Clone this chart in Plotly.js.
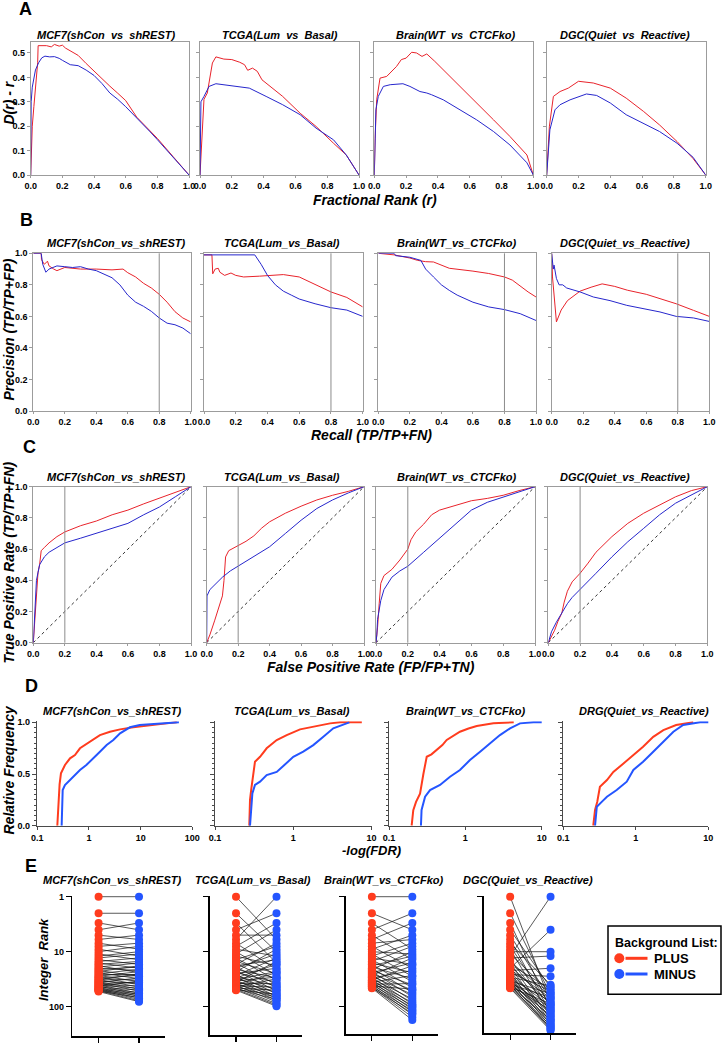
<!DOCTYPE html>
<html><head><meta charset="utf-8">
<script src="https://cdn.plot.ly/plotly-3.0.1.min.js"></script>
<style>html,body{margin:0;padding:0;background:#fff}#chart{width:722px;height:1043px}</style>
</head><body><div id="chart"></div>
<script>
// ---------------- DATA ----------------
const titlesA = ['MCF7(shCon\u00a0 vs\u00a0 shREST)','TCGA(Lum\u00a0 vs\u00a0 Basal)','Brain(WT\u00a0 vs\u00a0 CTCFko)','DGC(Quiet\u00a0 vs\u00a0 Reactive)'];
const titlesBC = ['MCF7(shCon_vs_shREST)','TCGA(Lum_vs_Basal)','Brain(WT_vs_CTCFko)','DGC(Quiet_vs_Reactive)'];
const titlesD = ['MCF7(shCon_vs_shREST)','TCGA(Lum_vs_Basal)','Brain(WT_vs_CTCFko)','DRG(Quiet_vs_Reactive)'];
const titlesE = ['MCF7(shCon_vs_shREST)','TCGA(Lum_vs_Basal)','Brain(WT_vs_CTCFko)','DGC(Quiet_vs_Reactive)'];
const eCategories = ['PLUS','MINUS'];
const recallCutoff = 0.8;
const fprCutoff = 0.2;
const diagonalRef = [0, 1];

// A: D(r)-r vs fractional rank
const A_MCF7_red_x = [0,0.005,0.01,0.02,0.03,0.04,0.044,0.047,0.06,0.1,0.13,0.15,0.18,0.2,0.22,0.25,0.3,0.35,0.4,0.45,0.5,0.55,0.6,0.67,0.75,0.8,0.9,1.0];
const A_MCF7_red_y = [0,0.1,0.2,0.28,0.35,0.42,0.46,0.53,0.53,0.53,0.525,0.535,0.528,0.532,0.52,0.51,0.49,0.457,0.425,0.392,0.364,0.335,0.305,0.237,0.185,0.15,0.075,0];
const A_MCF7_blue_x = [0,0.003,0.01,0.02,0.03,0.05,0.07,0.09,0.12,0.15,0.18,0.2,0.25,0.3,0.35,0.4,0.45,0.5,0.55,0.6,0.67,0.75,0.8,0.9,1.0];
const A_MCF7_blue_y = [0,0.3,0.36,0.4,0.43,0.46,0.48,0.487,0.484,0.485,0.478,0.47,0.452,0.448,0.43,0.408,0.375,0.336,0.31,0.28,0.235,0.18,0.145,0.072,0];
const A_TCGA_red_x = [0,0.01,0.025,0.046,0.061,0.078,0.1,0.15,0.2,0.25,0.28,0.3,0.33,0.36,0.39,0.45,0.52,0.63,0.73,0.84,0.92,1.0];
const A_TCGA_red_y = [0,0.12,0.31,0.336,0.39,0.459,0.484,0.475,0.473,0.462,0.452,0.429,0.438,0.425,0.39,0.36,0.322,0.253,0.199,0.13,0.082,0];
const A_TCGA_blue_x = [0,0.003,0.006,0.025,0.057,0.1,0.2,0.31,0.416,0.52,0.63,0.73,0.84,0.92,1.0];
const A_TCGA_blue_y = [0,0.2,0.3,0.322,0.363,0.374,0.366,0.356,0.322,0.288,0.247,0.192,0.144,0.082,0];
const A_Brain_red_x = [0,0.005,0.015,0.036,0.078,0.11,0.14,0.17,0.2,0.235,0.266,0.3,0.33,0.38,0.455,0.54,0.644,0.75,0.853,0.96,1.0];
const A_Brain_red_y = [0,0.15,0.308,0.397,0.404,0.425,0.445,0.473,0.479,0.503,0.5,0.486,0.496,0.466,0.418,0.363,0.295,0.226,0.158,0.082,0];
const A_Brain_blue_x = [0,0.004,0.01,0.025,0.057,0.1,0.18,0.224,0.287,0.33,0.36,0.434,0.54,0.644,0.75,0.853,0.96,1.0];
const A_Brain_blue_y = [0,0.15,0.267,0.322,0.363,0.37,0.374,0.363,0.342,0.336,0.329,0.308,0.267,0.226,0.178,0.123,0.05,0];
const A_DGC_red_x = [0,0.017,0.042,0.084,0.136,0.2,0.293,0.4,0.5,0.61,0.71,0.82,0.92,1.0];
const A_DGC_red_y = [0,0.2,0.322,0.342,0.356,0.384,0.377,0.356,0.315,0.26,0.205,0.137,0.068,0];
const A_DGC_blue_x = [0,0.02,0.052,0.084,0.147,0.21,0.25,0.314,0.4,0.5,0.61,0.71,0.82,0.92,1.0];
const A_DGC_blue_y = [0,0.185,0.267,0.288,0.308,0.322,0.332,0.326,0.295,0.247,0.212,0.178,0.13,0.073,0];

// B: precision vs recall
const B_MCF7_red_x = [0,0.05,0.052,0.07,0.09,0.1,0.13,0.15,0.2,0.25,0.3,0.4,0.5,0.57,0.6,0.65,0.7,0.75,0.8,0.85,0.9,0.95,1.0];
const B_MCF7_red_y = [1.0,1.0,0.96,0.93,0.95,0.92,0.9,0.89,0.91,0.905,0.9,0.9,0.895,0.9,0.877,0.85,0.81,0.78,0.74,0.69,0.63,0.59,0.565];
const B_MCF7_blue_x = [0,0.05,0.06,0.07,0.08,0.1,0.12,0.15,0.2,0.25,0.3,0.35,0.4,0.45,0.5,0.55,0.6,0.65,0.7,0.75,0.8,0.85,0.9,0.95,1.0];
const B_MCF7_blue_y = [1.0,1.0,0.93,0.9,0.88,0.9,0.91,0.92,0.915,0.91,0.915,0.9,0.89,0.87,0.845,0.8,0.735,0.69,0.664,0.632,0.59,0.557,0.547,0.526,0.49];
const B_TCGA_red_x = [0,0.05,0.055,0.07,0.09,0.1,0.13,0.17,0.2,0.25,0.35,0.5,0.6,0.7,0.8,0.9,1.0];
const B_TCGA_red_y = [0.99,0.99,0.87,0.9,0.905,0.88,0.86,0.875,0.86,0.85,0.855,0.865,0.85,0.8,0.755,0.72,0.66];
const B_TCGA_blue_x = [0,0.32,0.36,0.4,0.45,0.5,0.55,0.6,0.7,0.8,0.9,1.0];
const B_TCGA_blue_y = [0.99,0.99,0.93,0.86,0.8,0.76,0.735,0.71,0.68,0.655,0.64,0.6];
const B_Brain_red_x = [0,0.1,0.2,0.25,0.3,0.35,0.45,0.55,0.6,0.7,0.8,0.85,0.9,0.95,1.0];
const B_Brain_red_y = [1.0,0.99,0.97,0.955,0.947,0.945,0.905,0.895,0.887,0.872,0.85,0.83,0.79,0.755,0.723];
const B_Brain_blue_x = [0,0.1,0.11,0.2,0.27,0.3,0.35,0.4,0.45,0.5,0.6,0.7,0.8,0.9,1.0];
const B_Brain_blue_y = [1.0,1.0,0.985,0.975,0.955,0.9,0.85,0.8,0.765,0.735,0.69,0.66,0.643,0.617,0.574];
const B_DGC_red_x = [0,0.005,0.03,0.06,0.1,0.18,0.25,0.32,0.4,0.48,0.6,0.69,0.79,0.9,1.0];
const B_DGC_red_y = [1.0,0.85,0.565,0.64,0.7,0.76,0.785,0.806,0.79,0.766,0.74,0.713,0.68,0.638,0.6];
const B_DGC_blue_x = [0,0.005,0.01,0.015,0.02,0.03,0.047,0.07,0.095,0.18,0.264,0.37,0.476,0.6,0.687,0.79,0.9,1.0];
const B_DGC_blue_y = [1.0,0.95,0.9,0.925,0.89,0.84,0.8,0.8,0.78,0.755,0.723,0.7,0.67,0.645,0.628,0.6,0.59,0.568];

// C: ROC
const C_MCF7_red_x = [0,0.01,0.02,0.03,0.04,0.05,0.07,0.1,0.15,0.2,0.3,0.4,0.5,0.6,0.7,0.8,0.9,1.0];
const C_MCF7_red_y = [0,0.15,0.3,0.45,0.5,0.59,0.61,0.64,0.68,0.71,0.75,0.78,0.82,0.85,0.89,0.925,0.96,1.0];
const C_MCF7_blue_x = [0,0.005,0.01,0.02,0.04,0.07,0.1,0.15,0.2,0.3,0.4,0.5,0.6,0.7,0.8,0.9,1.0];
const C_MCF7_blue_y = [0,0.1,0.25,0.4,0.5,0.55,0.58,0.61,0.64,0.67,0.7,0.733,0.765,0.82,0.87,0.935,1.0];
const C_TCGA_red_x = [0,0.01,0.02,0.05,0.08,0.1,0.11,0.12,0.14,0.2,0.25,0.3,0.35,0.4,0.5,0.6,0.7,0.8,0.9,1.0];
const C_TCGA_red_y = [0,0.02,0.05,0.14,0.23,0.3,0.4,0.55,0.59,0.625,0.65,0.685,0.735,0.775,0.83,0.875,0.915,0.945,0.97,1.0];
const C_TCGA_blue_x = [0,0.002,0.02,0.05,0.1,0.15,0.2,0.3,0.4,0.5,0.6,0.7,0.8,0.9,1.0];
const C_TCGA_blue_y = [0,0.3,0.34,0.37,0.42,0.46,0.49,0.55,0.615,0.7,0.785,0.86,0.915,0.96,1.0];
const C_Brain_red_x = [0,0.01,0.02,0.03,0.05,0.1,0.15,0.2,0.22,0.25,0.3,0.35,0.4,0.5,0.6,0.7,0.8,0.9,1.0];
const C_Brain_red_y = [0,0.1,0.25,0.38,0.43,0.47,0.53,0.6,0.66,0.71,0.76,0.82,0.85,0.88,0.91,0.925,0.945,0.975,1.0];
const C_Brain_blue_x = [0,0.005,0.01,0.02,0.03,0.05,0.1,0.15,0.2,0.3,0.4,0.5,0.6,0.7,0.8,0.9,1.0];
const C_Brain_blue_y = [0,0.05,0.15,0.22,0.27,0.34,0.42,0.46,0.49,0.58,0.67,0.765,0.85,0.9,0.935,0.968,1.0];
const C_DGC_red_x = [0,0.02,0.04,0.06,0.085,0.1,0.12,0.15,0.2,0.25,0.3,0.4,0.5,0.6,0.7,0.8,0.9,1.0];
const C_DGC_red_y = [0,0.04,0.08,0.135,0.19,0.26,0.33,0.39,0.445,0.51,0.58,0.68,0.765,0.83,0.885,0.935,0.975,1.0];
const C_DGC_blue_x = [0,0.02,0.05,0.085,0.12,0.15,0.2,0.3,0.4,0.5,0.6,0.7,0.8,0.9,1.0];
const C_DGC_blue_y = [0,0.07,0.13,0.19,0.25,0.29,0.34,0.445,0.55,0.647,0.733,0.82,0.894,0.947,1.0];

// D: cumulative relative frequency vs -log(FDR)
const D_MCF7_red_x = [0.244,0.25,0.255,0.27,0.287,0.343,0.43,0.536,0.67,0.84,1.04,1.31,1.63,2.55,4.0,7.2,15,32,50];
const D_MCF7_red_y = [0,0.1,0.25,0.4,0.507,0.587,0.652,0.684,0.749,0.78,0.812,0.845,0.877,0.909,0.932,0.952,0.974,0.99,1.0];
const D_MCF7_blue_x = [0.296,0.3,0.31,0.343,0.43,0.536,0.67,0.89,1.18,1.63,2.2,2.96,4.0,6.2,9.6,24,55];
const D_MCF7_blue_y = [0,0.2,0.345,0.394,0.442,0.49,0.539,0.587,0.652,0.716,0.78,0.829,0.894,0.952,0.974,0.99,1.0];
const D_TCGA_red_x = [0.274,0.28,0.29,0.303,0.324,0.376,0.457,0.614,0.824,1.22,2.0,2.95,3.96,7.5];
const D_TCGA_red_y = [0,0.25,0.35,0.442,0.619,0.667,0.749,0.829,0.877,0.932,0.964,0.99,1.0,1.0];
const D_TCGA_blue_x = [0.28,0.29,0.3,0.324,0.376,0.457,0.614,0.745,1.0,1.34,1.8,2.42,3.24,4.8,5.2];
const D_TCGA_blue_y = [0,0.2,0.313,0.394,0.426,0.49,0.52,0.577,0.667,0.716,0.78,0.86,0.942,0.99,1.0];
const D_Brain_red_x = [0.198,0.208,0.226,0.255,0.282,0.312,0.36,0.42,0.5,0.57,0.7,0.85,1.1,1.41,2.33,4.3];
const D_Brain_red_y = [0,0.15,0.23,0.31,0.5,0.667,0.69,0.73,0.78,0.83,0.87,0.909,0.94,0.964,0.99,1.0];
const D_Brain_blue_x = [0.262,0.267,0.297,0.345,0.466,0.63,0.85,1.15,1.56,2.1,2.84,3.85,5.2,7.8,11];
const D_Brain_blue_y = [0,0.152,0.28,0.345,0.394,0.474,0.539,0.635,0.716,0.797,0.877,0.942,0.99,1.0,1.0];
const D_DRG_red_x = [0.259,0.274,0.294,0.32,0.4,0.49,0.67,0.92,1.26,1.74,2.4,3.6,6.2];
const D_DRG_red_y = [0,0.152,0.232,0.377,0.442,0.52,0.6,0.684,0.764,0.86,0.925,0.974,1.0];
const D_DRG_blue_x = [0.274,0.29,0.35,0.4,0.545,0.75,0.925,1.26,1.74,2.4,3.3,4.5,7.7,13.8];
const D_DRG_blue_y = [0,0.184,0.24,0.28,0.345,0.426,0.539,0.619,0.716,0.81,0.909,0.974,1.0,1.0];

// E: integer rank in PLUS vs MINUS background lists
const E_MCF7_plus = [1,2,3,4,5,6,7,8,9,10,11,12,13,14,15,16,17,18,19,20,21,22,23,24,25,26,27,28,29,30,31,32,33,34,35,36,37,38,39,40,41,42,43,44,45,46,47,48,49,50,51,52,53];
const E_MCF7_minus = [1,2,4,3,6,5,9,7,12,8,14,10,11,17,13,20,15,24,16,22,19,28,18,31,21,26,35,23,40,27,33,44,25,38,48,30,52,36,42,57,46,61,34,50,65,55,70,59,74,63,78,68,81];
const E_TCGA_plus = [1,2,3,4,5,6,7,8,9,10,11,12,13,14,15,16,17,18,19,20,21,22,23,24,25,26,27,28,29,30,31,32,33,34,35,36,37,38,39,40,41,42,43,44,45,46,47,48,49,50];
const E_TCGA_minus = [6,10,16,2,5,1,21,3,12,27,4,18,33,8,25,40,7,14,45,11,30,52,9,36,20,58,13,42,65,17,48,23,70,29,55,15,76,38,62,24,82,44,68,31,88,50,74,93,60,98];
const E_Brain_plus = [1,2,3,4,5,6,7,8,9,10,11,12,13,14,15,16,17,18,19,20,21,22,23,24,25,26,27,28,29,30,31,32,33,34,35,36,37,38,39,40,41,42,43,44,45,46];
const E_Brain_minus = [1,4,9,2,14,3,6,20,5,11,28,7,17,35,8,24,45,12,31,55,10,40,66,16,50,78,13,60,90,22,72,100,18,84,112,27,95,125,38,105,140,48,118,155,132,175];
const E_DGC_plus = [1,2,3,4,5,6,7,8,9,10,11,12,13,14,15,16,17,18,19,20,21,22,23,24,25,26,27,28,29,30,31,32,33,34,35,36,37,38,39,40,41,42,43,44,45,46];
const E_DGC_minus = [85,60,110,45,75,130,40,95,150,10,55,1,12,120,65,170,48,90,190,4,70,20,140,52,210,28,100,160,42,230,80,125,180,58,250,105,145,200,68,260,115,175,220,88,240,270];

const rowA = [[A_MCF7_red_x,A_MCF7_red_y,A_MCF7_blue_x,A_MCF7_blue_y],[A_TCGA_red_x,A_TCGA_red_y,A_TCGA_blue_x,A_TCGA_blue_y],[A_Brain_red_x,A_Brain_red_y,A_Brain_blue_x,A_Brain_blue_y],[A_DGC_red_x,A_DGC_red_y,A_DGC_blue_x,A_DGC_blue_y]];
const rowB = [[B_MCF7_red_x,B_MCF7_red_y,B_MCF7_blue_x,B_MCF7_blue_y],[B_TCGA_red_x,B_TCGA_red_y,B_TCGA_blue_x,B_TCGA_blue_y],[B_Brain_red_x,B_Brain_red_y,B_Brain_blue_x,B_Brain_blue_y],[B_DGC_red_x,B_DGC_red_y,B_DGC_blue_x,B_DGC_blue_y]];
const rowC = [[C_MCF7_red_x,C_MCF7_red_y,C_MCF7_blue_x,C_MCF7_blue_y],[C_TCGA_red_x,C_TCGA_red_y,C_TCGA_blue_x,C_TCGA_blue_y],[C_Brain_red_x,C_Brain_red_y,C_Brain_blue_x,C_Brain_blue_y],[C_DGC_red_x,C_DGC_red_y,C_DGC_blue_x,C_DGC_blue_y]];
const rowD = [[D_MCF7_red_x,D_MCF7_red_y,D_MCF7_blue_x,D_MCF7_blue_y],[D_TCGA_red_x,D_TCGA_red_y,D_TCGA_blue_x,D_TCGA_blue_y],[D_Brain_red_x,D_Brain_red_y,D_Brain_blue_x,D_Brain_blue_y],[D_DRG_red_x,D_DRG_red_y,D_DRG_blue_x,D_DRG_blue_y]];
const rowE = [[E_MCF7_plus,E_MCF7_minus],[E_TCGA_plus,E_TCGA_minus],[E_Brain_plus,E_Brain_minus],[E_DGC_plus,E_DGC_minus]];

// ---------------- LAYOUT / DRAWING ----------------
const W = 722, H = 1043;
const FONT = 'Arial, "Liberation Sans", sans-serif';
const RED1 = '#e8232b', BLUE1 = '#2626cc';
const RED2 = '#ff3c1e', BLUE2 = '#2455ff';
const FRAME = '#9c9c9c';
const fx = p => p / W, fy = p => 1 - p / H;

const layout = {width:W, height:H, margin:{l:0,r:0,t:0,b:0}, showlegend:false,
  paper_bgcolor:'#fff', plot_bgcolor:'rgba(0,0,0,0)', font:{family:FONT,color:'#000'},
  annotations:[], shapes:[]};
const traces = [];
let axN = 0;
function addPanel(box, xCfg, yCfg){
  axN++;
  const s = axN === 1 ? '' : String(axN);
  layout['xaxis'+s] = Object.assign({}, xCfg, {domain:[fx(box.l), fx(box.r)], anchor:'y'+s});
  layout['yaxis'+s] = Object.assign({}, yCfg, {domain:[fy(box.b), fy(box.t)], anchor:'x'+s});
  return {x:'x'+s, y:'y'+s};
}
const tickFont = {family:FONT, size:9, weight:'bold', color:'#000'};
function frameAxis(range, labels, dtick, extra){
  return Object.assign({range:range, autorange:false, showline:true, mirror:true, linecolor:FRAME, linewidth:1,
    showgrid:false, zeroline:false, ticks:'outside', ticklen:3, tickcolor:FRAME, tickwidth:1,
    tick0:0, dtick:dtick, tickformat:'.1f', showticklabels:labels, tickfont:tickFont}, extra||{});
}
function ann(text, x, y, size, extra){
  layout.annotations.push(Object.assign({text:text, x:fx(x), y:fy(y), xref:'paper', yref:'paper',
    xanchor:'center', yanchor:'middle', showarrow:false, font:{family:FONT, size:size, color:'#000'}}, extra||{}));
}
function line(ax, x, y, color, width, dash){
  traces.push({type:'scatter', mode:'lines', x:x, y:y, xaxis:ax.x, yaxis:ax.y, hoverinfo:'skip',
    line:{color:color, width:width, dash:dash||'solid'}});
}

// Row A
const boxesA = [[30.7,189],[200,359],[374.3,533.3],[546.7,705.7]];
const titleXA = [106,280,455.5,625];
boxesA.forEach((c,i)=>{
  const ax = addPanel({l:c[0], r:c[1], t:42, b:175},
    frameAxis([0,1], true, 0.2, {ticklen:2}), frameAxis([0,0.545], i===0, 0.1));
  line(ax, rowA[i][0], rowA[i][1], RED1, 1);
  line(ax, rowA[i][2], rowA[i][3], BLUE1, 1);
  ann('<b><i>'+titlesA[i]+'</i></b>', titleXA[i], 35, 11);
});
ann('<b>A</b>', 25.5, 9, 18);
ann('<b><i>Fractional Rank (r)</i></b>', 375, 200, 14);
ann('<b><i>D(r) - r</i></b>', 8.5, 103, 14, {textangle:-90});

// Row B
const boxesB = [[33.3,190.7],[204,362.7],[378.3,536],[551.7,709.3]];
const titleXB = [115.5,282,457,625];
boxesB.forEach((c,i)=>{
  const ax = addPanel({l:c[0], r:c[1], t:253.3, b:411},
    frameAxis([0,1], true, 0.2, {ticklen:2}), frameAxis([0,1], i===0, 0.2));
  layout.shapes.push({type:'line', xref:ax.x, yref:ax.y+' domain', x0:recallCutoff, x1:recallCutoff, y0:0, y1:1,
    line:{color:'#8c8c8c', width:1}});
  line(ax, rowB[i][0], rowB[i][1], RED1, 1);
  line(ax, rowB[i][2], rowB[i][3], BLUE1, 1);
  ann('<b><i>'+titlesBC[i]+'</i></b>', titleXB[i], 243.5, 11);
});
ann('<b>B</b>', 26, 220, 18);
ann('<b><i>Recall (TP/TP+FN)</i></b>', 371, 435, 14);
ann('<b><i>Precision (TP/TP+FP)</i></b>', 8.5, 330, 14, {textangle:-90});

// Row C
const boxesC = [[33.3,191],[206.7,364],[376,535],[548.3,707.3]];
boxesC.forEach((c,i)=>{
  const ax = addPanel({l:c[0], r:c[1], t:486.7, b:642.7},
    frameAxis([0,1], true, 0.2, {ticklen:2}), frameAxis([0,1], i===0, 0.2));
  layout.shapes.push({type:'line', xref:ax.x, yref:ax.y+' domain', x0:fprCutoff, x1:fprCutoff, y0:0, y1:1,
    line:{color:'#8c8c8c', width:1}});
  line(ax, diagonalRef, diagonalRef, '#000', 0.8, 'dot');
  line(ax, rowC[i][0], rowC[i][1], RED1, 1);
  line(ax, rowC[i][2], rowC[i][3], BLUE1, 1);
  ann('<b><i>'+titlesBC[i]+'</i></b>', titleXB[i], 476.5, 11);
});
ann('<b>C</b>', 29, 447, 18);
ann('<b><i>False Positive Rate (FP/FP+TN)</i></b>', 371, 667, 14);
ann('<b><i>True Positive Rate (TP/TP+FN)</i></b>', 8.5, 563, 14, {textangle:-90});

// Row D
const boxesD = [[37.3,192.3,2],[215,371.6,1],[389,541.7,1],[563.3,708.3,1]];
const titleXD = [112,291.7,465.8,644];
const DAX = '#4a4a4a';
boxesD.forEach((c,i)=>{
  const xa = {type:'log', range:[-1,c[2]], autorange:false, showline:true, linecolor:DAX, linewidth:1.5,
    showgrid:false, zeroline:false, ticks:'outside', ticklen:3, tickcolor:DAX, tickwidth:1,
    tickmode:'array', tickvals:[0.1,1,10,100], ticktext:['0.1','1','10','100'], tickfont:tickFont};
  const ya = {range:[0,1.01], autorange:false, showline:true, linecolor:DAX, linewidth:1.5,
    showgrid:false, zeroline:false, ticks:'outside', ticklen:4, tickcolor:DAX, tickwidth:1,
    tick0:0, dtick:0.5, tickformat:'.1f', showticklabels:i===0, tickfont:tickFont,
    minor:{ticks:'outside', ticklen:2, dtick:0.05, tickcolor:DAX, tickwidth:1, showgrid:false}};
  const ax = addPanel({l:c[0], r:c[1], t:721.3, b:825.7}, xa, ya);
  line(ax, rowD[i][0], rowD[i][1], RED2, 2);
  line(ax, rowD[i][2], rowD[i][3], BLUE2, 2);
  ann('<b><i>'+titlesD[i]+'</i></b>', titleXD[i], 711, 11);
});
ann('<b>D</b>', 31, 686, 18);
ann('<b><i>-log(FDR)</i></b>', 371, 850, 13);
ann('<b><i>Relative Frequency</i></b>', 8.5, 770, 14, {textangle:-90});

// Row E
const boxesE = [[72.3,164.5,1036],[209.7,302,1035],[345.6,437.8,1034],[483.9,576,1033]];
const titleXE = [112,253,384,527.5];
boxesE.forEach((c,i)=>{
  const xa = {type:'category', categoryarray:eCategories, range:[-0.65,1.63], autorange:false,
    showline:true, linecolor:'#000', linewidth:1.5, showgrid:false, zeroline:false,
    ticks:'outside', ticklen:5, tickcolor:'#000', tickwidth:1.2, showticklabels:false};
  const ya = {type:'log', range:[(c[2]-896.7)/55, -0.02], autorange:false, showline:true, linecolor:'#000',
    linewidth:1.5, showgrid:false, zeroline:false, ticks:'outside', ticklen:5, tickcolor:'#000', tickwidth:1.2,
    tickmode:'array', tickvals:[1,10,100], ticktext:['1','10','100'], showticklabels:i===0, tickfont:tickFont};
  const ax = addPanel({l:c[0], r:c[1], t:895.6, b:c[2]}, xa, ya);
  const plus = rowE[i][0], minus = rowE[i][1];
  const lx = [], ly = [];
  plus.forEach((p,k)=>{ lx.push(eCategories[0], eCategories[1], null); ly.push(p, minus[k], null); });
  traces.push({type:'scatter', mode:'lines', x:lx, y:ly, xaxis:ax.x, yaxis:ax.y, hoverinfo:'skip',
    connectgaps:false, line:{color:'#111', width:0.7}});
  traces.push({type:'scatter', mode:'markers', x:plus.map(()=>eCategories[0]), y:plus, xaxis:ax.x, yaxis:ax.y,
    cliponaxis:false, hoverinfo:'skip', marker:{color:RED2, size:8, line:{width:0}}});
  traces.push({type:'scatter', mode:'markers', x:minus.map(()=>eCategories[1]), y:minus, xaxis:ax.x, yaxis:ax.y,
    cliponaxis:false, hoverinfo:'skip', marker:{color:BLUE2, size:8, line:{width:0}}});
  ann('<b><i>'+titlesE[i]+'</i></b>', titleXE[i], 880, 11);
});
ann('<b>E</b>', 31, 866, 18);
ann('<b><i>Integer\u00a0 Rank</i></b>', 43, 960, 13, {textangle:-90});

// Legend (E)
layout.shapes.push({type:'rect', xref:'paper', yref:'paper', x0:fx(608), x1:fx(721), y0:fy(994.3), y1:fy(926),
  line:{color:'#000', width:1.5}, fillcolor:'#fff'});
[[RED2, 958.3, eCategories[0]], [BLUE2, 974, eCategories[1]]].forEach(e=>{
  layout.shapes.push({type:'circle', xref:'paper', yref:'paper', x0:fx(614.3), x1:fx(624.3), y0:fy(e[1]+5), y1:fy(e[1]-5),
    fillcolor:e[0], line:{width:0}});
  layout.shapes.push({type:'line', xref:'paper', yref:'paper', x0:fx(625.5), x1:fx(647.5), y0:fy(e[1]), y1:fy(e[1]),
    line:{color:e[0], width:3}});
  ann('<b>'+e[2]+'</b>', 651.5, e[1], 13, {xanchor:'left'});
});
ann('<b>Background List:</b>', 666, 942.5, 12.5);

Plotly.newPlot('chart', traces, layout, {staticPlot:true, displayModeBar:false});
</script></body></html>
